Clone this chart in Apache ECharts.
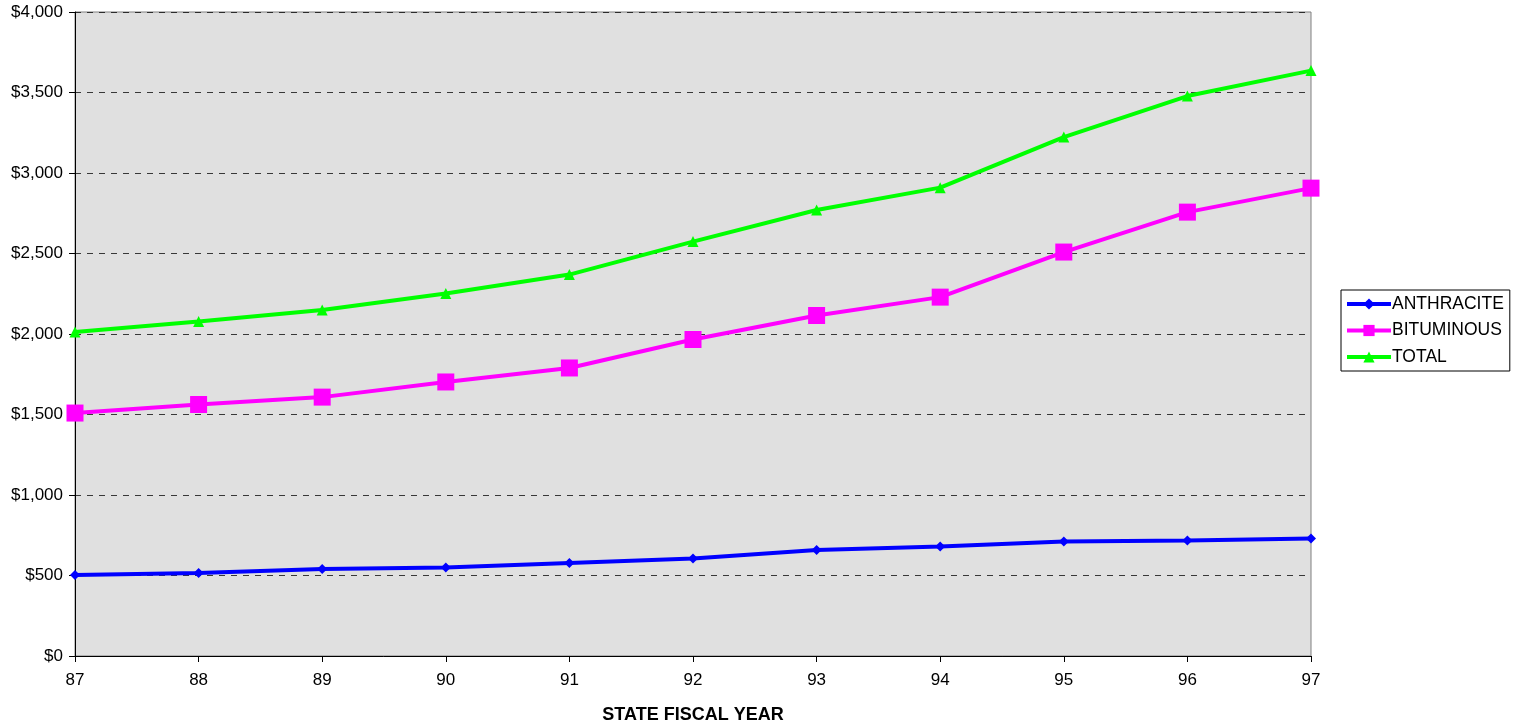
<!DOCTYPE html>
<html>
<head>
<meta charset="utf-8">
<script src="https://cdn.jsdelivr.net/npm/echarts@6/dist/echarts.min.js"></script>
<style>html,body{margin:0;padding:0;background:#fff}#c{width:1519px;height:725px}</style>
</head>
<body>
<div id="c"></div>
<script>
const years = ['87','88','89','90','91','92','93','94','95','96','97'];
const anthracite = [503, 515, 540, 550, 578, 605, 658, 680, 711, 717, 730];
const bituminous = [1509, 1562, 1608, 1702, 1789, 1966, 2115, 2229, 2509, 2757, 2906];
const total = [2012, 2077, 2149, 2251, 2369, 2574, 2770, 2909, 3223, 3478, 3636];
const xTitle = 'STATE FISCAL YEAR';

const chart = echarts.init(document.getElementById('c'));
const font = 'Liberation Sans, Arial, sans-serif';
chart.setOption({
  animation: false,
  textStyle: {fontFamily: font},
  grid: {left: 75, right: 208, top: 12, bottom: 69, show: true, backgroundColor: '#e0e0e0', borderColor: '#808080', borderWidth: 1,
    containLabel: false, outerBoundsMode: 'none'},
  legend: {
    orient: 'vertical', left: 1341, top: 290,
    itemWidth: 44, itemHeight: 14, itemGap: 8.5,
    borderColor: '#000', borderWidth: 1, padding: [5, 6, 5, 4],
    lineStyle: {width: 4},
    textStyle: {fontSize: 17.5, color: '#000', fontFamily: font, padding: [0, 0, 0, -4]},
    data: ['ANTHRACITE', 'BITUMINOUS', 'TOTAL']
  },
  xAxis: {
    type: 'category', data: years, boundaryGap: false,
    name: xTitle, nameLocation: 'middle', nameGap: 50,
    nameTextStyle: {fontWeight: 'bold', fontSize: 18, color: '#000', fontFamily: font},
    axisLine: {lineStyle: {color: '#000', width: 1}},
    axisTick: {show: true, inside: false, length: 6, alignWithLabel: true, lineStyle: {color: '#000'}},
    axisLabel: {fontSize: 17, color: '#000', margin: 16, fontFamily: font},
    splitLine: {show: false}
  },
  yAxis: {
    type: 'value', min: 0, max: 4000, interval: 500,
    axisLine: {show: true, lineStyle: {color: '#000', width: 1}},
    axisTick: {show: true, length: 6, lineStyle: {color: '#000'}},
    axisLabel: {fontSize: 17, color: '#000', margin: 12, fontFamily: font,
      formatter: v => '$' + v.toLocaleString('en-US')},
    splitLine: {show: true, lineStyle: {color: '#000', type: [6, 6], width: 1, opacity: 0.75}}
  },
  series: [
    {name: 'ANTHRACITE', type: 'line', data: anthracite, symbol: 'diamond', symbolSize: 10,
      lineStyle: {color: '#0000ff', width: 4}, itemStyle: {color: '#0000ff'}},
    {name: 'BITUMINOUS', type: 'line', data: bituminous, symbol: 'rect', symbolSize: 17,
      lineStyle: {color: '#ff00ff', width: 4}, itemStyle: {color: '#ff00ff'}},
    {name: 'TOTAL', type: 'line', data: total, symbol: 'triangle', symbolSize: 11,
      lineStyle: {color: '#00ff00', width: 4}, itemStyle: {color: '#00ff00'}}
  ]
});
</script>
</body>
</html>
